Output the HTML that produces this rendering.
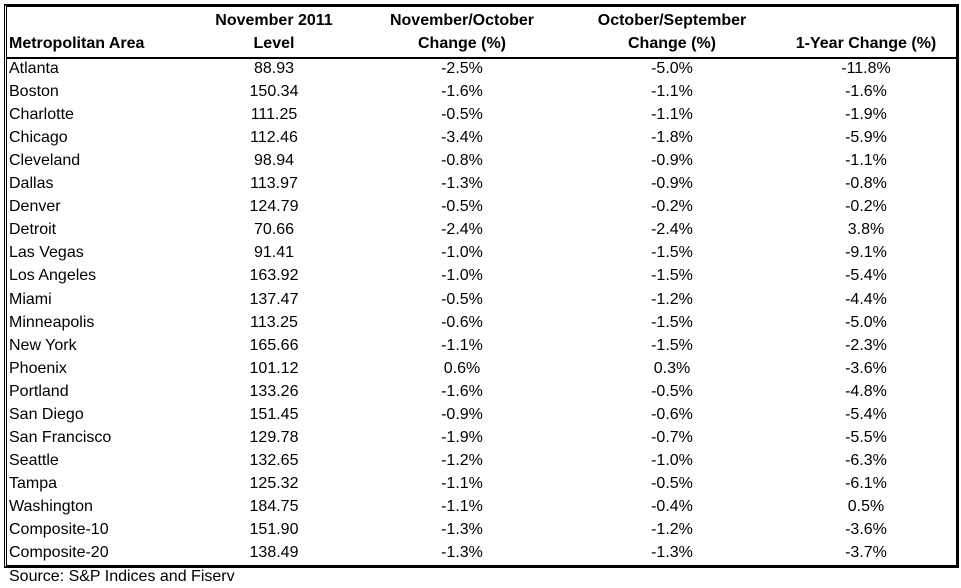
<!DOCTYPE html>
<html><head><meta charset="utf-8"><style>
body{margin:0;width:961px;height:573px;background:#fff;overflow:hidden;font-family:"Liberation Sans",Arial,sans-serif;color:#000;position:relative}
.t{position:absolute;font-size:16px;line-height:23px;white-space:nowrap}
.h{font-weight:bold}
.c{transform:translateX(-50%)}
</style></head><body>
<div style="position:absolute;left:4px;top:4px;width:949px;height:558px;border:3px solid #000;border-left:3px double #000;"></div>
<div style="position:absolute;left:7px;top:57px;width:949px;height:2px;background:#000"></div>
<div class="t h" style="left:9px;top:32px">Metropolitan Area</div>
<div class="t h c" style="left:274px;top:9px;text-align:center">November 2011<br>Level</div>
<div class="t h c" style="left:462px;top:9px;text-align:center">November/October<br>Change (%)</div>
<div class="t h c" style="left:672px;top:9px;text-align:center">October/September<br>Change (%)</div>
<div class="t h c" style="left:866px;top:32px">1-Year Change (%)</div>
<div class="t" style="left:9px;top:565px">Source: S&amp;P Indices and Fiserv</div>
<div id="rows"></div>
<script>
const areas=["Atlanta","Boston","Charlotte","Chicago","Cleveland","Dallas","Denver","Detroit","Las Vegas","Los Angeles","Miami","Minneapolis","New York","Phoenix","Portland","San Diego","San Francisco","Seattle","Tampa","Washington","Composite-10","Composite-20"];
const levels=["88.93","150.34","111.25","112.46","98.94","113.97","124.79","70.66","91.41","163.92","137.47","113.25","165.66","101.12","133.26","151.45","129.78","132.65","125.32","184.75","151.90","138.49"];
const novOct=["-2.5%","-1.6%","-0.5%","-3.4%","-0.8%","-1.3%","-0.5%","-2.4%","-1.0%","-1.0%","-0.5%","-0.6%","-1.1%","0.6%","-1.6%","-0.9%","-1.9%","-1.2%","-1.1%","-1.1%","-1.3%","-1.3%"];
const octSep=["-5.0%","-1.1%","-1.1%","-1.8%","-0.9%","-0.9%","-0.2%","-2.4%","-1.5%","-1.5%","-1.2%","-1.5%","-1.5%","0.3%","-0.5%","-0.6%","-0.7%","-1.0%","-0.5%","-0.4%","-1.2%","-1.3%"];
const yearChg=["-11.8%","-1.6%","-1.9%","-5.9%","-1.1%","-0.8%","-0.2%","3.8%","-9.1%","-5.4%","-4.4%","-5.0%","-2.3%","-3.6%","-4.8%","-5.4%","-5.5%","-6.3%","-6.1%","0.5%","-3.6%","-3.7%"];
const root=document.getElementById('rows');
const cols=[[levels,274,'level'],[novOct,462,'nov-oct-change'],[octSep,672,'oct-sep-change'],[yearChg,866,'one-year-change']];
areas.forEach((a,i)=>{
  const y=57+i*23.05;
  const d=document.createElement('div');
  d.className='t';d.style.left='9px';d.style.top=y+'px';d.textContent=a;
  
  
  root.appendChild(d);
  cols.forEach(([arr,x,n])=>{
    const e=document.createElement('div');
    e.className='t c';e.style.left=x+'px';e.style.top=y+'px';e.textContent=arr[i];
    
    
    root.appendChild(e);
  });
});
</script>
</body></html>
